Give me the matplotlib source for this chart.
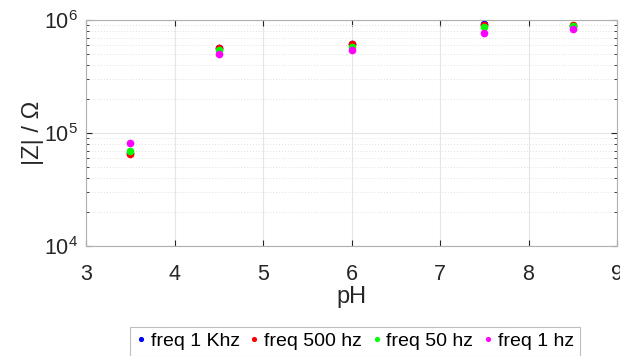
import matplotlib
matplotlib.use("Agg")
import matplotlib.pyplot as plt
from matplotlib.ticker import LogLocator, NullFormatter

plt.rcParams['font.family'] = ['Liberation Sans', 'DejaVu Sans']

ph = [3.5, 4.5, 6.0, 7.5, 8.5]
z_1khz = [66000, 560000, 610000, 930000, 890000]
z_500hz = [65000, 565000, 615000, 910000, 900000]
z_50hz = [69000, 540000, 580000, 870000, 880000]
z_1hz = [81000, 500000, 540000, 770000, 830000]

series = [
    ("freq 1 Khz", z_1khz, "#0000ff"),
    ("freq 500 hz", z_500hz, "#ff0000"),
    ("freq 50 hz", z_50hz, "#00ff00"),
    ("freq 1 hz", z_1hz, "#ff00ff"),
]

fig = plt.figure(figsize=(6.2, 3.56), dpi=100)
ax = fig.add_axes([86 / 620, 1 - 246 / 356, (617 - 86) / 620, (246 - 20) / 356])

for label, vals, color in series:
    ax.plot(ph, vals, linestyle="none", marker="o", markersize=4.5,
            color=color, label=label)

ax.set_yscale("log")
ax.set_xlim(3, 9)
ax.set_ylim(1e4, 1e6)
ax.set_xticks([3, 4, 5, 6, 7, 8, 9])
ax.yaxis.set_major_locator(LogLocator(base=10, numticks=10))
ax.yaxis.set_minor_locator(LogLocator(base=10, subs=range(2, 10), numticks=20))
ax.yaxis.set_minor_formatter(NullFormatter())

ax.grid(True, which="major", color="#e6e6e6", linewidth=0.8)
ax.grid(True, which="minor", axis="y", color="#e0e0e0", linestyle=(0, (1, 2)), linewidth=0.7)
ax.set_axisbelow(True)

for s in ax.spines.values():
    s.set_color("#b0b0b0")
    s.set_linewidth(0.8)
ax.tick_params(which="both", direction="in", top=True, right=True,
               colors="#262626", labelsize=15.5, length=4)
ax.tick_params(which="minor", length=2)
ax.tick_params(axis="x", pad=13)
ax.tick_params(axis="y", pad=6)

ax.set_xlabel("pH", fontsize=17, color="#262626", labelpad=1)
ax.set_ylabel("|Z| / Ω", fontsize=17, color="#262626", labelpad=0)

leg = fig.legend(loc="upper center", bbox_to_anchor=(355 / 620, 1 - 317 / 356),
                 ncol=4, frameon=True, fontsize=14, handlelength=0.5,
                 handletextpad=0.25, columnspacing=0.5, borderpad=0.3,
                 markerscale=0.6, fancybox=False)
leg.get_frame().set_edgecolor("#b0b0b0")
leg.get_frame().set_linewidth(0.8)

fig.savefig("out.png", dpi=100)
